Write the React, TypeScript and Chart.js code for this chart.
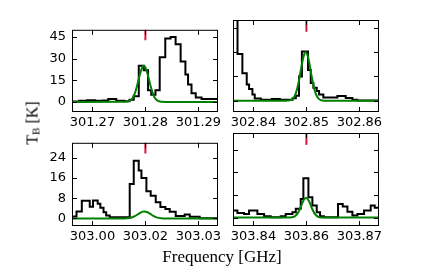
import React, { useEffect, useRef } from "react";
import { Chart, registerables } from "chart.js";
Chart.register(...registerables);

// x axis: offset from each line's rest frequency, in MHz
const X_MIN = -13.85;
const X_MAX = 13.7;
const xTickOffsets = [-10, 0, 10];

const tlTickLabels = ["301.27", "301.28", "301.29"];
const trTickLabels = ["302.84", "302.85", "302.86"];
const blTickLabels = ["303.00", "303.02", "303.03"];
const brTickLabels = ["303.84", "303.86", "303.87"];

const topYTicks = [0, 15, 30, 45];
const bottomYTicks = [0, 8, 16, 24];
const topYRange = [-7, 50];
const bottomYRange = [-3, 30];

// observed spectra: channel edges (MHz) and brightness temperature (K)
const tlEdges = [-14, -12.5, -11, -9.5, -8, -7, -5.5, -4, -3, -2.2, -1.25, -0.3, 0.5, 1.1, 1.9, 2.7, 3.75, 4.75, 5.7, 6.65, 7.55, 8.05, 8.7, 9.5, 10.6, 14];
const tlObs = [0.3, 0.8, 1.2, 0.8, 1.0, 2.0, 0.8, 0.5, 1.5, 4.0, 25, 22, 8, 5, 8, 31, 44, 45, 40, 28, 19, 12, 6, 3, 2, 2];

const trEdges = [-14, -13.0, -12.08, -11.26, -10.82, -10.19, -9.75, -8.6, -6.5, -5.0, -2.6, -2.0, -1.4, -0.85, 0.31, 0.82, 1.32, 1.95, 2.39, 3.2, 5.85, 7.42, 8.68, 9.62, 14];
const trObs = [60, 29, 17, 10, 7.3, 3.8, 1.3, 0.6, 1.0, 0.6, 1.5, 3.0, 15, 30.5, 19, 11, 8, 6, 3.8, 2, 2.9, 1.7, 0.6, 0.2, 0.2];

const blEdges = [-14, -13.0, -12.0, -10.5, -9.88, -9.0, -8.5, -7.9, -7.4, -6.73, -2.96, -2.2, -1.26, -0.75, 0.19, 1.0, 1.95, 2.83, 3.77, 4.59, 5.72, 7.42, 8.36, 10.25, 14];
const blObs = [0.8, 2.8, 7.0, 4.6, 7.1, 5.8, 4.2, 2.5, 1.2, 0.5, 13.7, 22.9, 19, 16, 10.8, 9.0, 6.4, 4.5, 3.7, 2.7, 1.0, 1.6, 0.7, 0.1, 0.1];

const brEdges = [-14, -13.02, -11.76, -10.82, -9.25, -7.99, -6.73, -4.84, -3.9, -2.64, -2.0, -1.07, -0.57, 0.38, 1.13, 1.95, 2.58, 3.33, 5.97, 6.86, 7.74, 8.68, 9.62, 10.88, 12.14, 12.89, 14];
const brObs = [2.5, 1.65, 1.3, 2.5, 1.3, 0.5, 0.1, 0.5, 1.3, 1.9, 3.1, 6.6, 13.9, 7.2, 4.3, 1.9, 0.5, 0.1, 4.8, 3.9, 2.1, 0.7, 1.3, 2.5, 4.3, 3.5, 3.5];

// model (green) profiles
const tlModelX = [-14, -4, -3, -2.5, -2, -1.5, -1, -0.5, -0.3, 0, 0.5, 1, 1.5, 2, 2.5, 3, 4, 14];
const tlModel = [0, 0.05, 0.65, 2.2, 5.9, 12.2, 19.6, 24.5, 25, 23.9, 18.2, 10.7, 4.9, 1.8, 0.5, 0.1, 0, 0];

const trModelX = [-14, -4, -3, -2.5, -2, -1.5, -1, -0.5, -0.13, 0.25, 0.5, 1, 1.5, 2, 2.5, 3, 4, 14];
const trModel = [0, 0, 0.34, 1.4, 4.5, 10.8, 19.9, 27.9, 30, 27.8, 24.2, 15, 7.1, 2.6, 0.7, 0.15, 0, 0];

const blModelX = [-14, -4, -3, -2.5, -2, -1.5, -1, -0.5, -0.2, 0.5, 1, 1.5, 2, 2.5, 3, 4, 14];
const blModel = [0, 0.02, 0.18, 0.45, 0.91, 1.56, 2.24, 2.71, 2.8, 2.36, 1.7, 1.03, 0.52, 0.22, 0.08, 0, 0];

const brModelX = [-14, -3, -2.5, -2, -1.5, -1, -0.5, -0.06, 0.5, 1, 1.5, 2, 2.5, 3, 14];
const brModel = [0, 0.03, 0.18, 0.69, 1.95, 4.06, 6.2, 7, 5.77, 3.5, 1.56, 0.51, 0.12, 0.02, 0];

// red line-position markers (K range)
const topMarker = [42.7, 50];
const bottomMarker = [25.8, 30];

const AXIS_W = 40;
const AXIS_H = 22;
const PAD_T = 4;
const PAD_R = 10;

const framePlugin = {
  id: "frameTicks",
  afterDatasetsDraw(chart: any, _args: any, opts: any) {
    const { ctx, chartArea: a, scales } = chart;
    const xs = scales.x;
    const ys = scales.y;
    const L = 5;
    ctx.save();
    ctx.strokeStyle = "#000";
    ctx.lineWidth = 1;
    ctx.beginPath();
    for (const v of opts.xTicks as number[]) {
      const px = Math.round(xs.getPixelForValue(v)) + 0.5;
      ctx.moveTo(px, a.bottom);
      ctx.lineTo(px, a.bottom - L);
      ctx.moveTo(px, a.top);
      ctx.lineTo(px, a.top + L);
    }
    for (const v of opts.yTicks as number[]) {
      const py = Math.round(ys.getPixelForValue(v)) + 0.5;
      ctx.moveTo(a.left, py);
      ctx.lineTo(a.left + L, py);
      ctx.moveTo(a.right, py);
      ctx.lineTo(a.right - L, py);
    }
    ctx.stroke();
    ctx.strokeRect(a.left + 0.5, a.top + 0.5, a.right - a.left - 1, a.bottom - a.top - 1);
    ctx.restore();
  },
};

type PanelProps = {
  left: number;
  top: number;
  plotW: number;
  plotH: number;
  edges: number[];
  obs: number[];
  modelX: number[];
  model: number[];
  xLabels: string[];
  yTicks: number[];
  yRange: number[];
  showY: boolean;
  marker: number[];
};

function Panel(p: PanelProps) {
  const ref = useRef<HTMLCanvasElement>(null);
  const width = AXIS_W + p.plotW + PAD_R;
  const height = PAD_T + p.plotH + AXIS_H;
  useEffect(() => {
    const chart = new Chart(ref.current as HTMLCanvasElement, {
      type: "line",
      data: {
        datasets: [
          {
            data: p.marker.map((y) => ({ x: 0, y })),
            borderColor: "#dc143c",
            borderWidth: 2,
            pointRadius: 0,
            clip: 0,
            order: 0,
          } as any,
          {
            data: p.modelX.map((x, i) => ({ x, y: p.model[i] })),
            borderColor: "#008000",
            borderWidth: 2,
            pointRadius: 0,
            cubicInterpolationMode: "monotone",
            clip: 0,
            order: 1,
          } as any,
          {
            data: p.edges.map((x, i) => ({ x, y: p.obs[i] })),
            borderColor: "#000000",
            borderWidth: 2,
            pointRadius: 0,
            stepped: "before",
            clip: 0,
            order: 2,
          } as any,
        ],
      },
      options: {
        animation: false,
        responsive: false,
        devicePixelRatio: 1,
        events: [],
        layout: { padding: { top: PAD_T, right: PAD_R, left: 0, bottom: 0 } },
        plugins: {
          legend: { display: false },
          tooltip: { enabled: false },
          frameTicks: { xTicks: xTickOffsets, yTicks: p.yTicks },
        } as any,
        scales: {
          x: {
            type: "linear",
            min: X_MIN,
            max: X_MAX,
            grid: { display: false, drawTicks: false },
            border: { display: false },
            afterBuildTicks: (s: any) => {
              s.ticks = xTickOffsets.map((v) => ({ value: v }));
            },
            afterFit: (s: any) => {
              s.height = AXIS_H;
            },
            ticks: {
              autoSkip: false,
              maxRotation: 0,
              padding: 3,
              color: "#000",
              font: { family: "DejaVu Sans", size: 13 },
              callback: (_v: any, i: number) => p.xLabels[i],
            },
          },
          y: {
            type: "linear",
            min: p.yRange[0],
            max: p.yRange[1],
            grid: { display: false, drawTicks: false },
            border: { display: false },
            afterBuildTicks: (s: any) => {
              s.ticks = p.yTicks.map((v) => ({ value: v }));
            },
            afterFit: (s: any) => {
              s.width = AXIS_W;
            },
            ticks: {
              display: p.showY,
              autoSkip: false,
              padding: 6,
              color: "#000",
              font: { family: "DejaVu Sans", size: 13 },
              callback: (v: any) => String(v),
            },
          },
        },
      } as any,
      plugins: [framePlugin],
    });
    return () => chart.destroy();
  }, []);
  return (
    <canvas
      ref={ref}
      width={width}
      height={height}
      style={{
        position: "absolute",
        left: p.left - AXIS_W,
        top: p.top - PAD_T,
        width,
        height,
      }}
    />
  );
}

export default function App() {
  return (
    <div
      style={{
        position: "absolute",
        left: 0,
        top: 0,
        width: 437,
        height: 273,
        background: "#fff",
        overflow: "hidden",
      }}
    >
      <Panel left={72} top={20} plotW={146} plotH={92} edges={tlEdges} obs={tlObs} modelX={tlModelX} model={tlModel} xLabels={tlTickLabels} yTicks={topYTicks} yRange={topYRange} showY={true} marker={topMarker} />
      <Panel left={233} top={20} plotW={146} plotH={92} edges={trEdges} obs={trObs} modelX={trModelX} model={trModel} xLabels={trTickLabels} yTicks={topYTicks} yRange={topYRange} showY={false} marker={topMarker} />
      <Panel left={72} top={133} plotW={146} plotH={93} edges={blEdges} obs={blObs} modelX={blModelX} model={blModel} xLabels={blTickLabels} yTicks={bottomYTicks} yRange={bottomYRange} showY={true} marker={bottomMarker} />
      <Panel left={233} top={133} plotW={146} plotH={93} edges={brEdges} obs={brObs} modelX={brModelX} model={brModel} xLabels={brTickLabels} yTicks={bottomYTicks} yRange={bottomYRange} showY={false} marker={bottomMarker} />
      <div
        style={{
          position: "absolute",
          left: 222,
          top: 248,
          transform: "translateX(-50%)",
          whiteSpace: "nowrap",
          fontFamily: "'Liberation Serif', serif",
          fontSize: 17,
          lineHeight: "17px",
          color: "#000",
        }}
      >
        Frequency [GHz]
      </div>
      <div
        style={{
          position: "absolute",
          left: 34,
          top: 123,
          transform: "translate(-50%, -50%) rotate(-90deg)",
          whiteSpace: "nowrap",
          fontFamily: "'Liberation Serif', serif",
          fontSize: 16,
          lineHeight: "16px",
          color: "#000",
        }}
      >
        T<span style={{ fontSize: 11, verticalAlign: "-2px" }}>B</span> [K]
      </div>
    </div>
  );
}
